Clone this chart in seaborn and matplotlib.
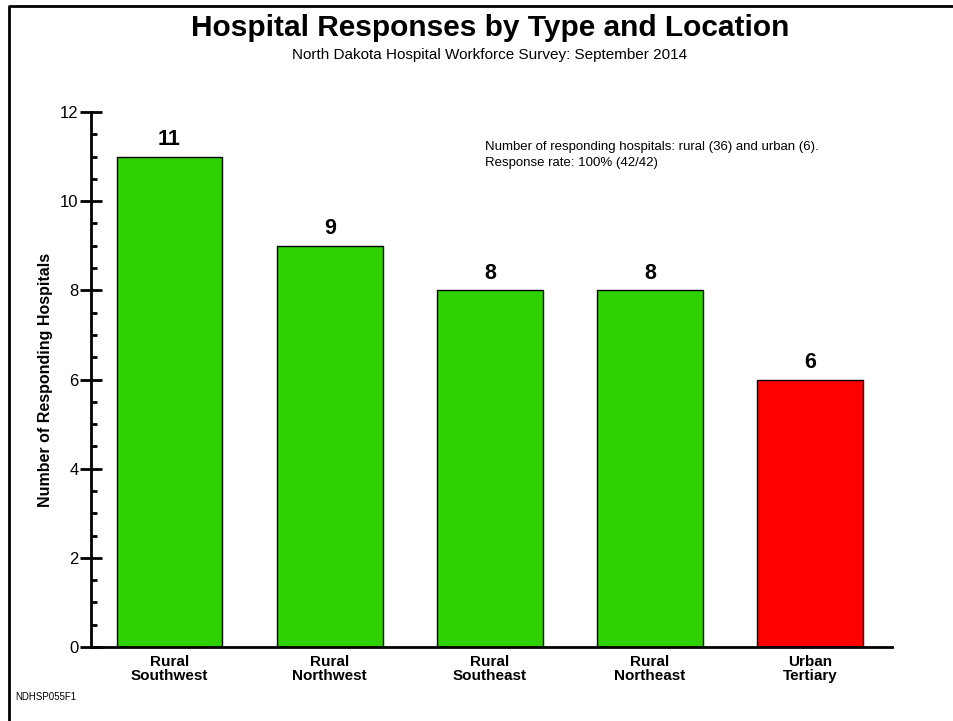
import matplotlib
matplotlib.use("Agg")
import matplotlib.pyplot as plt
import seaborn as sns
import pandas as pd
from matplotlib.ticker import MultipleLocator
from matplotlib.lines import Line2D

categories = ["Rural\nSouthwest", "Rural\nNorthwest", "Rural\nSoutheast", "Rural\nNortheast", "Urban\nTertiary"]
values = [11, 9, 8, 8, 6]
groups = ["Rural", "Rural", "Rural", "Rural", "Urban"]
colors = {"Rural": "#2ED100", "Urban": "#FF0000"}

sns.set_theme(style="white")
plt.rcParams['font.family'] = ['Liberation Sans', 'DejaVu Sans']
plt.rcParams['text.color'] = 'black'
plt.rcParams['axes.labelcolor'] = 'black'
plt.rcParams['xtick.color'] = 'black'
plt.rcParams['ytick.color'] = 'black'

fig = plt.figure(figsize=(9.54, 7.21), dpi=100)
ax = fig.add_axes([91/954, 1-647/721, (892-91)/954, (647-112)/721])

df = pd.DataFrame({"cat": categories, "val": values, "grp": groups})
sns.barplot(data=df, x="cat", y="val", hue="grp", palette=colors, dodge=False,
            saturation=1, width=0.66, edgecolor="black", linewidth=1, legend=False, ax=ax)

ax.set_xlim(-0.49, 4.51)
ax.set_ylim(0, 12)
ax.yaxis.set_major_locator(MultipleLocator(2))
ax.yaxis.set_minor_locator(MultipleLocator(0.5))
ax.tick_params(axis='y', which='major', direction='inout', length=16, width=2,
               labelsize=12, pad=1, left=True)
ax.tick_params(axis='y', which='minor', direction='in', length=4, width=2, left=True)
ax.tick_params(axis='x', length=0, pad=6)
for lbl in ax.get_xticklabels():
    lbl.set_fontweight('bold')
    lbl.set_fontsize(11)
    lbl.set_linespacing(1.0)
ax.set_xlabel("")
ax.set_ylabel("Number of Responding Hospitals", fontsize=11.5, fontweight='bold', labelpad=5)
for s in ["top", "right"]:
    ax.spines[s].set_visible(False)
for s in ["left", "bottom"]:
    ax.spines[s].set_linewidth(2)
    ax.spines[s].set_color("black")

for i, v in enumerate(values):
    ax.text(i, v + 0.15, str(v), ha='center', va='bottom', fontsize=15.5, fontweight='bold')

fig.text(490/954, 1-28/721, "Hospital Responses by Type and Location", ha='center', va='center',
         fontsize=21.5, fontweight='bold')
fig.text(490/954, 1-55/721, "North Dakota Hospital Workforce Survey: September 2014", ha='center',
         va='center', fontsize=11)
fig.text(485/954, 1-155/721, "Number of responding hospitals: rural (36) and urban (6).\nResponse rate: 100% (42/42)",
         ha='left', va='center', fontsize=9.5, linespacing=1.45)
fig.text(15/954, 1-697/721, "NDHSP055F1", ha='left', va='center', fontsize=7)

# figure frame (left and top edges)
fx = [9/954, 9/954, 1.0]
fy = [0, 1-6/721, 1-6/721]
fig.add_artist(Line2D(fx, fy, transform=fig.transFigure, color='black', linewidth=2))

fig.savefig("out.png", dpi=100, facecolor='white')
